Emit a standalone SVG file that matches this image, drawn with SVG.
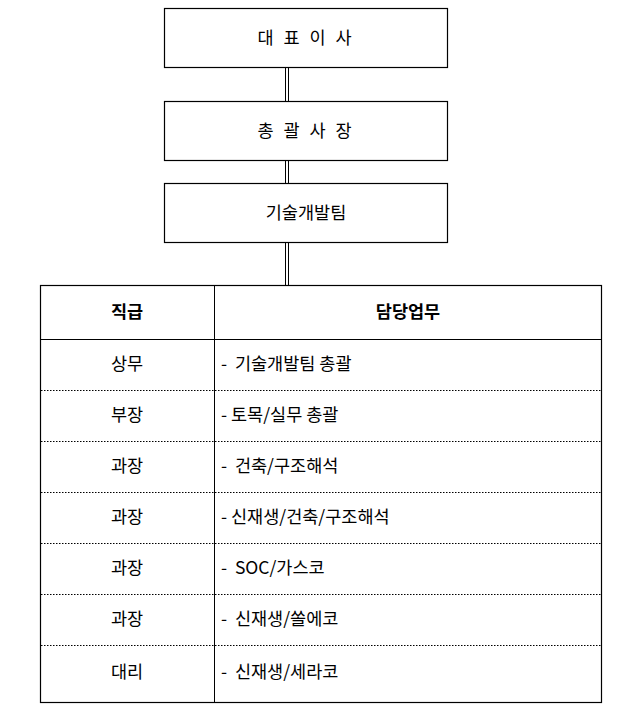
<svg xmlns="http://www.w3.org/2000/svg" width="642" height="725" viewBox="0 0 642 725">
<style>
.b{fill:#fff;stroke:#000;stroke-width:1.2}
.t{font-family:"Noto Sans CJK KR","Liberation Sans",sans-serif;font-size:17.5px;fill:#000}
.h{font-weight:bold}
.c{stroke:#000;stroke-width:1}
.d{stroke:#000;stroke-width:1;stroke-dasharray:1.5 1.5}
</style>
<rect width="642" height="725" fill="#fff"/>
<g id="connectors">
<line class="c" x1="285.5" y1="67" x2="285.5" y2="101"/><line class="c" x1="288.5" y1="67" x2="288.5" y2="101"/>
<line class="c" x1="285.5" y1="160" x2="285.5" y2="183"/><line class="c" x1="288.5" y1="160" x2="288.5" y2="183"/>
<line class="c" x1="285.5" y1="242" x2="285.5" y2="285"/><line class="c" x1="288.5" y1="242" x2="288.5" y2="285"/>
</g>
<g id="n1"><rect class="b" x="164.5" y="8.5" width="283" height="59"/><text class="t" x="306" y="44" text-anchor="middle" letter-spacing="3">대 표 이 사</text></g>
<g id="n2"><rect class="b" x="164.5" y="101.5" width="283" height="59"/><text class="t" x="306" y="137" text-anchor="middle" letter-spacing="3">총 괄 사 장</text></g>
<g id="n3"><rect class="b" x="164.5" y="183.5" width="283" height="59"/><text class="t" x="306" y="219" text-anchor="middle">기술개발팀</text></g>
<g id="table">
<rect class="b" x="40.5" y="285.5" width="561" height="417"/>
<line class="c" x1="214.5" y1="285" x2="214.5" y2="703"/>
<line class="c" x1="40" y1="339.5" x2="602" y2="339.5"/>
<line class="d" x1="41" y1="390.5" x2="601" y2="390.5"/>
<line class="d" x1="41" y1="441.5" x2="601" y2="441.5"/>
<line class="d" x1="41" y1="492.5" x2="601" y2="492.5"/>
<line class="d" x1="41" y1="543.5" x2="601" y2="543.5"/>
<line class="d" x1="41" y1="594.5" x2="601" y2="594.5"/>
<line class="d" x1="41" y1="645.5" x2="601" y2="645.5"/>
<text class="t h" x="127" y="318" text-anchor="middle">직급</text>
<text class="t h" x="408" y="318" text-anchor="middle">담당업무</text>
<text class="t" x="127" y="370" text-anchor="middle">상무</text>
<text class="t" x="127" y="421" text-anchor="middle">부장</text>
<text class="t" x="127" y="472" text-anchor="middle">과장</text>
<text class="t" x="127" y="523" text-anchor="middle">과장</text>
<text class="t" x="127" y="574" text-anchor="middle">과장</text>
<text class="t" x="127" y="625" text-anchor="middle">과장</text>
<text class="t" x="127" y="678" text-anchor="middle">대리</text>
<text class="t" x="221" y="370" xml:space="preserve">-  기술개발팀 총괄</text>
<text class="t" x="221" y="421" xml:space="preserve">- 토목/실무 총괄</text>
<text class="t" x="221" y="472" xml:space="preserve">-  건축/구조해석</text>
<text class="t" x="221" y="523" xml:space="preserve">- 신재생/건축/구조해석</text>
<text class="t" x="221" y="574" xml:space="preserve">-  SOC/가스코</text>
<text class="t" x="221" y="625" xml:space="preserve">-  신재생/쏠에코</text>
<text class="t" x="221" y="678" xml:space="preserve">-  신재생/세라코</text>
</g>
</svg>
